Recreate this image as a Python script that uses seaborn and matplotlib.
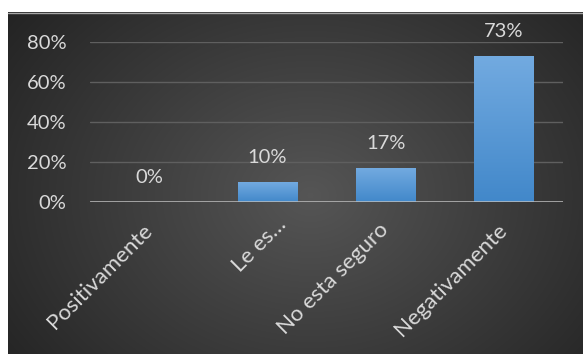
import numpy as np
import pandas as pd
import matplotlib
matplotlib.use("Agg")
import matplotlib.pyplot as plt
import matplotlib.transforms as mtransforms
import seaborn as sns

# Survey answers and their shares
categories = ["Positivamente", "Le es…", "No esta seguro", "Negativamente"]
shares = [0.00, 0.10, 0.17, 0.73]
y_ticks = [0.0, 0.2, 0.4, 0.6, 0.8]
y_tick_labels = ["0%", "20%", "40%", "60%", "80%"]
title_text = "¿Cómo percibe usted el nuevo proyecto?"

W, H = 583, 354
TEXT = "#d9d9d9"

sns.set_theme(style="dark")
plt.rcParams["font.family"] = ["Lato", "DejaVu Sans"]

fig = plt.figure(figsize=(W / 100, H / 100), dpi=100)
fig.patch.set_facecolor("white")

# Dark panel with a soft radial light in the middle
bg = fig.add_axes([0, 0, 1, 1], zorder=-5)
bg.set_xlim(0, W)
bg.set_ylim(H, 0)
bg.axis("off")
yy, xx = np.mgrid[12:H, 8:W].astype(float)
r = np.hypot((xx - 310) / 330, (yy - 195) / 260)
val = 0.335 - 0.17 * np.clip(r, 0, 1.3)
bg.imshow(np.dstack([val, val, val]), extent=(8, W, H, 12), aspect="auto",
          interpolation="bilinear")
bg.plot([8, W], [12.5, 12.5], color="#a6a6a6", lw=1)

# Title, largely above the visible frame
fig.text(40 / W, 1 + 17 / H, title_text, fontfamily="Liberation Serif",
         fontweight="bold", fontsize=24, va="baseline", ha="left", color="black")

ax = fig.add_axes([90 / W, (H - 202) / H, 473 / W, 160 / H])
ax.set_facecolor("none")

df = pd.DataFrame({"respuesta": categories, "porcentaje": shares})
sns.barplot(data=df, x="respuesta", y="porcentaje", ax=ax, width=0.5,
            color="#5b9bd5", saturation=1, edgecolor="#4a7fb3", linewidth=0.6,
            zorder=3)

# Vertical blue gradient inside each bar
grad = np.linspace(0, 1, 64)[:, None]
top_c = np.array([114, 170, 224]) / 255
bot_c = np.array([66, 136, 202]) / 255
grad_rgb = top_c[None, None, :] * (1 - grad[..., None]) + bot_c[None, None, :] * grad[..., None]
for patch in ax.patches:
    h = patch.get_height()
    if h <= 0:
        continue
    x0 = patch.get_x()
    w = patch.get_width()
    im = ax.imshow(grad_rgb, extent=(x0, x0 + w, 0, h), aspect="auto",
                   zorder=3.5, interpolation="bilinear")
    im.set_clip_path(patch)

ax.set_xlim(-0.5, len(categories) - 0.5)
ax.set_ylim(0, 0.8)
ax.set_aspect("auto")

for s in ax.spines.values():
    s.set_visible(False)
ax.yaxis.grid(True, color="#5f5f5f", lw=1)
ax.xaxis.grid(False)
ax.set_axisbelow(True)
ax.axhline(0, color="#bfbfbf", lw=1.8, zorder=5)

ax.set_yticks(y_ticks)
ax.set_yticklabels(y_tick_labels)
ax.set_xticks(range(len(categories)))
ax.set_xticklabels(categories, rotation=45, ha="right", va="center",
                   rotation_mode="anchor")
ax.tick_params(axis="y", length=0, pad=17, labelsize=14.5, colors=TEXT)
ax.tick_params(axis="x", length=0, pad=18, labelsize=16, colors=TEXT)
ax.set_xlabel("")
ax.set_ylabel("")

# The short truncated label sits a little further right and higher
short = ax.get_xticklabels()[1]
short.set_transform(short.get_transform()
                    + mtransforms.ScaledTranslation(0.16, 0.06, fig.dpi_scale_trans))

for i, v in enumerate(shares):
    ax.annotate(f"{v:.0%}", (i, v), xytext=(0, 17.5), textcoords="offset points",
                ha="center", va="center", color=TEXT, fontsize=14.5,
                annotation_clip=False)

fig.savefig("out.png", dpi=100, facecolor=fig.get_facecolor())
